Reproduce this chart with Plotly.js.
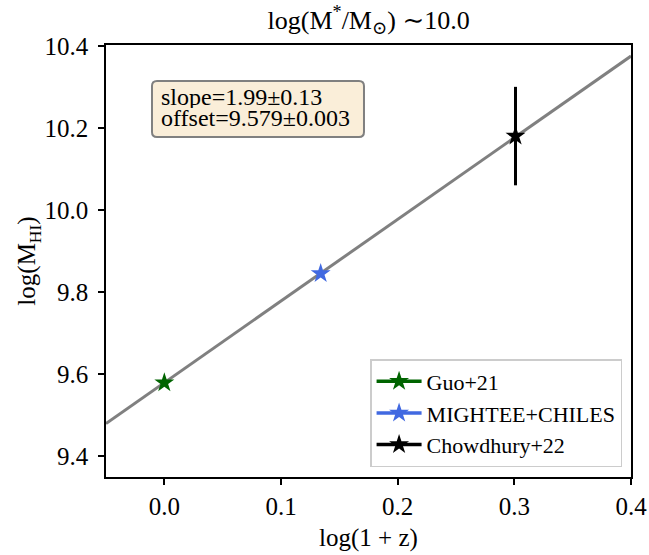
<!DOCTYPE html>
<html><head><meta charset="utf-8">
<script src="https://cdn.plot.ly/plotly-3.0.1.min.js"></script>
<style>html,body{margin:0;padding:0;background:#fff}</style>
</head><body>
<div id="chart" style="width:649px;height:555px"></div>
<script>
const seriesNames = ["Guo+21", "MIGHTEE+CHILES", "Chowdhury+22"];
const seriesColors = ["#006400", "#4169e1", "#000000"];
const xVals = [0.0, 0.134, 0.301];
const yVals = [9.579, 9.845, 10.18];
const yErr = [0, 0, 0.12];
const fitX = [-0.05, 0.4];
const fitY = [9.4795, 10.375];
const fitLines = ["slope=1.99±0.13", "offset=9.579±0.003"];
const xTicks = [0.0, 0.1, 0.2, 0.3, 0.4];
const yTicks = [9.4, 9.6, 9.8, 10.0, 10.2, 10.4];

const font = "'Liberation Serif', 'DejaVu Serif', serif";
const traces = [{
  x: fitX, y: fitY, mode: "lines", line: {color: "#808080", width: 3},
  showlegend: false, hoverinfo: "skip"
}];
for (let i = 0; i < seriesNames.length; i++) {
  const t = {
    x: [xVals[i]], y: [yVals[i]], mode: "lines+markers", name: seriesNames[i],
    line: {color: seriesColors[i], width: 3.5},
    marker: {symbol: "star", size: 15, color: seriesColors[i]}
  };
  if (yErr[i] > 0) t.error_y = {type: "data", array: [yErr[i]], visible: true, color: seriesColors[i], thickness: 3, width: 0};
  traces.push(t);
}
// text box geometry (paper coords)
const bx1 = 0.0876, bx2 = 0.4914, byt = 0.9167, byb = 0.787, rx = 0.0095, ry = 0.0116;
const boxPath = `M ${bx1+rx},${byt} L ${bx2-rx},${byt} Q ${bx2},${byt} ${bx2},${byt-ry} L ${bx2},${byb+ry} Q ${bx2},${byb} ${bx2-rx},${byb} L ${bx1+rx},${byb} Q ${bx1},${byb} ${bx1},${byb+ry} L ${bx1},${byt-ry} Q ${bx1},${byt} ${bx1+rx},${byt} Z`;

const axisCommon = {
  showgrid: false, zeroline: false, showline: true, mirror: true, linecolor: "#000", linewidth: 1.5,
  ticks: "outside", ticklen: 6, tickwidth: 1.5, tickcolor: "#000", tickfont: {family: font, size: 25}
};
const layout = {
  width: 649, height: 555,
  margin: {l: 106, r: 18, t: 45, b: 78},
  paper_bgcolor: "#fff", plot_bgcolor: "#fff",
  font: {family: font, size: 24, color: "#000"},
  title: {text: "log(M<sup>*</sup>/M<sub>⊙</sub>) ∼10.0", x: 0.568, xanchor: "center", y: 0.965, yanchor: "middle", font: {family: font, size: 26}},
  xaxis: Object.assign({}, axisCommon, {range: [-0.05, 0.4], tickvals: xTicks, tickformat: ".1f",
    title: {text: "log(1 + z)", standoff: 10, font: {family: font, size: 25}}}),
  yaxis: Object.assign({}, axisCommon, {range: [9.349, 10.402], tickvals: yTicks, tickformat: ".1f", ticklabelstandoff: 5,
    title: {text: "log(M<sub>HI</sub>)", standoff: 0, font: {family: font, size: 25}}}),
  legend: {x: 0.983, y: 0.023, xanchor: "right", yanchor: "bottom", bgcolor: "rgba(255,255,255,0.8)",
    bordercolor: "#cccccc", borderwidth: 1.5, font: {family: font, size: 22}, tracegroupgap: 0, itemwidth: 45},
  shapes: [{type: "path", xref: "paper", yref: "paper", path: boxPath,
    fillcolor: "#faeed9", line: {color: "#808080", width: 2}}],
  annotations: [
    {xref: "paper", yref: "paper", x: 0.101, y: 0.8796, xanchor: "left", yanchor: "middle", height: 22, valign: "middle",
     text: fitLines[0], showarrow: false, font: {family: font, size: 24}},
    {xref: "paper", yref: "paper", x: 0.101, y: 0.831, xanchor: "left", yanchor: "middle", height: 22, valign: "middle",
     text: fitLines[1], showarrow: false, font: {family: font, size: 24}}
  ]
};
Plotly.newPlot("chart", traces, layout, {displayModeBar: false});
</script>
</body></html>
